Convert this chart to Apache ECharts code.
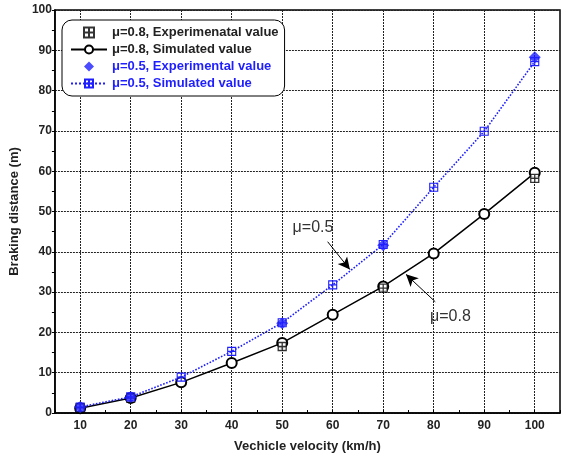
<!DOCTYPE html>
<html>
<head>
<meta charset="utf-8">
<script src="https://cdn.jsdelivr.net/npm/echarts@6/dist/echarts.min.js"></script>
<style>
  html, body { margin: 0; padding: 0; background: #fff; }
  #chart { width: 566px; height: 460px; }
</style>
</head>
<body>
<div id="chart"></div>
<script>
// velocities (km/h)
const velocity = [10, 20, 30, 40, 50, 60, 70, 80, 90, 100];
// simulated braking distance (m)
const sim08 = [1.2, 3.7, 7.6, 12.4, 17.4, 24.4, 31.4, 39.6, 49.4, 59.6];
const sim05 = [1.5, 4.0, 8.9, 15.3, 22.4, 31.8, 41.8, 56.0, 69.9, 87.2];
// experimental points
const expVelocity = [10, 20, 50, 70, 100];
const exp08 = [1.3, 3.7, 16.5, 31.0, 58.2];
const exp05 = [1.5, 4.0, 22.3, 41.6, 88.3];
// axis tick values
const xMajor = [10, 20, 30, 40, 50, 60, 70, 80, 90, 100];

const FONT = 'Arial, "Liberation Sans", sans-serif';
const BLUE = '#1e1eff';
const crossSquare = 'path://M0,0L10,0L10,10L0,10Z M5,0L5,10 M0,5L10,5';
const diamond = 'path://M5,0L10,5L5,10L0,5Z';

const pairs = (xs, ys) => xs.map((x, i) => [x, ys[i]]);

const chart = echarts.init(document.getElementById('chart'));

chart.setOption({
  animation: false,
  backgroundColor: '#fff',
  grid: {
    left: 52, right: 6, top: 10, bottom: 47,
    show: true,
    borderColor: '#000',
    borderWidth: 1.5
  },
  legend: {
    orient: 'vertical',
    left: 62,
    top: 20,
    backgroundColor: '#fff',
    borderColor: '#000',
    borderWidth: 1,
    borderRadius: 10,
    padding: [6, 6, 6, 8],
    itemGap: 4,
    itemWidth: 36,
    itemHeight: 10,
    symbolKeepAspect: true,
    textStyle: { fontFamily: FONT, fontWeight: 'bold', fontSize: 13 },
    data: [
      { name: 'μ=0.8, Experimenatal value', textStyle: { color: '#222' } },
      { name: 'μ=0.8, Simulated value', textStyle: { color: '#222' } },
      { name: 'μ=0.5, Experimental value', textStyle: { color: BLUE } },
      { name: 'μ=0.5, Simulated value', textStyle: { color: BLUE } }
    ]
  },
  xAxis: [
    {
      type: 'value',
      min: 5,
      max: 105,
      axisLine: { lineStyle: { color: '#000', width: 1.5 } },
      axisTick: { customValues: xMajor, inside: true, length: 3, lineStyle: { color: '#000' } },
      axisLabel: {
        customValues: xMajor,
        color: '#222', fontFamily: FONT, fontWeight: 'bold', fontSize: 12, margin: 7
      },
      splitLine: { show: true, lineStyle: { color: '#222', type: [2, 1], width: 1 } },
      name: 'Vechicle velocity (km/h)',
      nameLocation: 'middle',
      nameGap: 27,
      nameTextStyle: { color: '#222', fontFamily: FONT, fontWeight: 'bold', fontSize: 13 }
    },
    {
      // minor ticks at 15, 25, ...
      type: 'value',
      min: 5,
      max: 105,
      interval: 10,
      position: 'bottom',
      axisLine: { show: false },
      axisTick: { show: true, inside: true, length: 3, lineStyle: { color: '#000' } },
      axisLabel: { show: false },
      splitLine: { show: false }
    }
  ],
  yAxis: {
    type: 'value',
    min: 0,
    max: 100,
    interval: 10,
    axisLine: { show: true, lineStyle: { color: '#000', width: 1.5 } },
    axisTick: { show: true, length: 3, lineStyle: { color: '#000' } },
    minorTick: { show: true, splitNumber: 2, length: 3, lineStyle: { color: '#000' } },
    axisLabel: { color: '#222', fontFamily: FONT, fontWeight: 'bold', fontSize: 12, margin: 3 },
    splitLine: { show: true, lineStyle: { color: '#222', type: [2, 1], width: 1 } },
    name: 'Braking distance (m)',
    nameLocation: 'middle',
    nameGap: 25,
    nameTextStyle: { color: '#222', fontFamily: FONT, fontWeight: 'bold', fontSize: 13 }
  },
  series: [
    {
      name: 'μ=0.8, Simulated value',
      type: 'line',
      data: pairs(velocity, sim08),
      symbol: 'emptyCircle',
      symbolSize: 10,
      itemStyle: { color: '#000', borderWidth: 1 },
      lineStyle: { color: '#000', width: 1.5 },
      z: 3,
      markLine: {
        silent: true,
        symbol: ['none', 'arrow'],
        symbolSize: [9, 12],
        label: { show: false },
        lineStyle: { color: '#000', width: 1, type: 'solid' },
        data: [
          [{ coord: [59.0, 42.5] }, { coord: [63.4, 35.6] }],
          [{ coord: [80.3, 27.6] }, { coord: [74.5, 34.4] }]
        ]
      },
      markPoint: {
        silent: true,
        symbol: 'circle',
        symbolSize: 0,
        label: { show: true, color: '#333', fontFamily: FONT, fontSize: 16 },
        data: [
          { coord: [56.1, 45.9], value: 'μ=0.5' },
          { coord: [83.3, 23.8], value: 'μ=0.8' }
        ]
      }
    },
    {
      name: 'μ=0.8, Experimenatal value',
      type: 'scatter',
      data: pairs(expVelocity, exp08),
      symbol: crossSquare,
      symbolSize: 8,
      itemStyle: { color: '#fff', borderColor: '#000', borderWidth: 1.3 },
      z: 4
    },
    {
      name: 'μ=0.5, Simulated value',
      type: 'line',
      data: pairs(velocity, sim05),
      symbol: crossSquare,
      symbolSize: 8,
      itemStyle: { color: 'rgba(255,255,255,0)', borderColor: BLUE, borderWidth: 1.1 },
      lineStyle: { color: BLUE, width: 1.6, type: 'dotted' },
      z: 5
    },
    {
      name: 'μ=0.5, Experimental value',
      type: 'scatter',
      data: pairs(expVelocity, exp05),
      symbol: diamond,
      symbolSize: 12,
      itemStyle: { color: BLUE },
      z: 6
    }
  ]
});
</script>
</body>
</html>
